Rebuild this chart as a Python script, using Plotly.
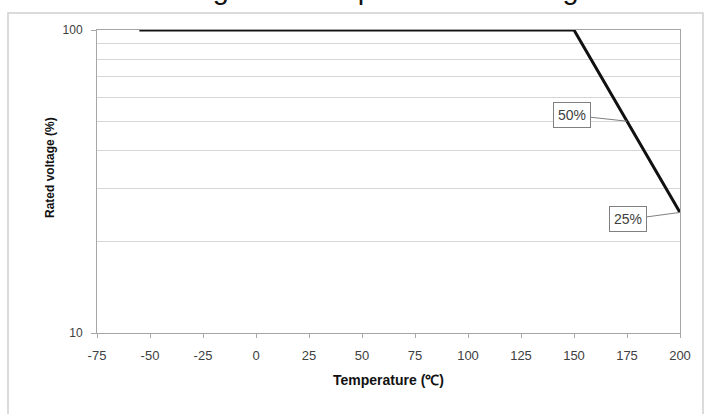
import math
import plotly.graph_objects as go

# Data
temperature = [-55, 150, 200]
rated_voltage = [100, 100, 25]
x_ticks = [-75, -50, -25, 0, 25, 50, 75, 100, 125, 150, 175, 200]
x_tick_labels = ["-75", "-50", "-25", "0", "25", "50", "75", "100", "125", "150", "175", "200"]
y_major = [10, 100]
y_major_labels = ["10", "100"]
y_minor = [20, 30, 40, 50, 60, 70, 80, 90]
callout_x = [175, 200]
callout_y = [50, 25]
callout_text = ["50%", "25%"]

W, H = 705, 414
L, R, T, B = 97, 25, 30, 81
pw = W - L - R
ph = H - T - B
FONT = "Liberation Sans, Arial"

fig = go.Figure()
fig.add_trace(go.Scatter(
    x=temperature, y=rated_voltage, mode="lines",
    line=dict(color="#111111", width=3), showlegend=False, hoverinfo="skip"))

offsets = [(-55, -6), (-52, 7)]
for cx, cy, txt, (ax, ay) in zip(callout_x, callout_y, callout_text, offsets):
    fig.add_annotation(
        x=cx, y=math.log10(cy), xref="x", yref="y", text=txt,
        showarrow=True, arrowhead=0, arrowwidth=1, arrowcolor="#808080",
        ax=ax, ay=ay, bgcolor="white", bordercolor="#808080", borderwidth=1,
        borderpad=4, font=dict(family=FONT, size=14, color="#404040"))

# Title, cut off at the top edge as in the reference
fig.add_annotation(
    x=(362 - L) / pw, y=(H - B - 7) / ph, xref="paper", yref="paper",
    xanchor="center", yanchor="bottom", showarrow=False,
    text="Rated voltage and temperature derating curve",
    font=dict(family=FONT, size=29, color="#111111"))

# Y axis title
fig.add_annotation(
    x=(50 - L) / pw, y=(H - B - 168) / ph, xref="paper", yref="paper",
    xanchor="center", yanchor="middle", showarrow=False, textangle=-90,
    text="<b>Rated voltage (%)</b>",
    font=dict(family=FONT, size=12, color="#111111"))

# Outer chart frame
fig.add_shape(type="rect", xref="paper", yref="paper",
              x0=(8 - L) / pw, x1=(703 - L) / pw,
              y0=(H - B - 420) / ph, y1=(H - B - 13) / ph,
              line=dict(color="#d0d0d0", width=1.5), fillcolor="rgba(0,0,0,0)",
              layer="below")

fig.update_layout(
    width=W, height=H,
    margin=dict(l=L, r=R, t=T, b=B),
    paper_bgcolor="white", plot_bgcolor="white",
    font=dict(family=FONT, size=12, color="#404040"),
    xaxis=dict(
        range=[-75, 200], tickvals=x_ticks, ticktext=x_tick_labels,
        ticks="outside", ticklen=4, tickcolor="#a6a6a6", ticklabelstandoff=6,
        showgrid=False, zeroline=False,
        showline=True, linecolor="#a6a6a6", linewidth=1, mirror=True,
        tickfont=dict(family=FONT, size=13, color="#404040"),
        title=dict(text="<b>Temperature (℃)</b>", font=dict(family=FONT, size=14, color="#111111"), standoff=13),
    ),
    yaxis=dict(
        type="log", range=[1, 2], tickvals=y_major, ticktext=y_major_labels,
        ticks="outside", ticklen=5, tickcolor="#a6a6a6", ticklabelstandoff=6,
        showgrid=True, gridcolor="#d6d6d6", gridwidth=1, zeroline=False,
        showline=True, linecolor="#a6a6a6", linewidth=1, mirror=True,
        tickfont=dict(family=FONT, size=12, color="#404040"),
        minor=dict(tickvals=y_minor, showgrid=True, gridcolor="#d6d6d6", gridwidth=1, ticklen=0),
    ),
)

fig.write_html("out.html", config={"displayModeBar": False},
               post_script="document.body.style.margin='0';document.body.style.overflow='hidden';")
